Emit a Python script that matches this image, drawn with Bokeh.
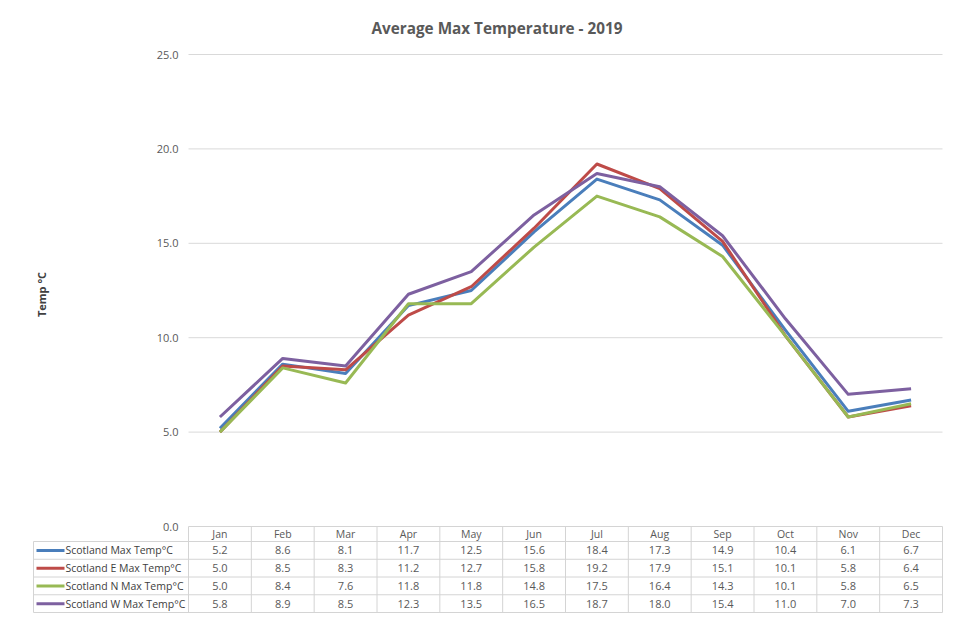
from bokeh.plotting import figure
from bokeh.models import Range1d
from bokeh.core.properties import value
from bokeh.embed import file_html
from bokeh.resources import INLINE

# ---------------- data ----------------
title_text = "Average Max Temperature - 2019"
y_label = "Temp °C"
months = ["Jan", "Feb", "Mar", "Apr", "May", "Jun", "Jul", "Aug", "Sep", "Oct", "Nov", "Dec"]
series_names = ["Scotland Max Temp°C", "Scotland E Max Temp°C",
                "Scotland N Max Temp°C", "Scotland W Max Temp°C"]
scotland = [5.2, 8.6, 8.1, 11.7, 12.5, 15.6, 18.4, 17.3, 14.9, 10.4, 6.1, 6.7]
scotland_e = [5.0, 8.5, 8.3, 11.2, 12.7, 15.8, 19.2, 17.9, 15.1, 10.1, 5.8, 6.4]
scotland_n = [5.0, 8.4, 7.6, 11.8, 11.8, 14.8, 17.5, 16.4, 14.3, 10.1, 5.8, 6.5]
scotland_w = [5.8, 8.9, 8.5, 12.3, 13.5, 16.5, 18.7, 18.0, 15.4, 11.0, 7.0, 7.3]
y_ticks = [0, 5, 10, 15, 20, 25]
series_values = [scotland, scotland_e, scotland_n, scotland_w]
colors = ["#4A7EBB", "#BE4B48", "#98B954", "#7D60A0"]

# ---------------- layout (pixels) ----------------
W, H = 944, 613
TOP = 44
PX_YMAX = 54      # pixel row of top tick
PX_Y0 = 526       # pixel row of 0 / table top
PLOT_L, PLOT_R = 188, 942
LEG_L = 33
HEAD_H = 15
ROW_H = 17.75

ncol = len(months)
ymax = max(y_ticks)
ppu_y = (PX_Y0 - PX_YMAX) / ymax
ppu_x = (PLOT_R - PLOT_L) / ncol


def px2x(px):
    return (px - PLOT_L) / ppu_x


def px2y(py):
    return (PX_Y0 - py) / ppu_y


FONT = value("Open Sans")
GREY = "#595959"
BORDER = "#d4d4d4"

p = figure(width=W, height=H, output_backend="svg", toolbar_location=None,
           x_axis_type=None, y_axis_type=None,
           x_range=Range1d(px2x(0), px2x(W)),
           y_range=Range1d(px2y(H), px2y(TOP)),
           min_border_left=0, min_border_right=0, min_border_bottom=0,
           min_border_top=TOP, title=title_text)
p.grid.visible = False
p.outline_line_color = None
p.background_fill_color = "white"
p.border_fill_color = "white"
p.title.align = "left"
p.title.offset = 371
p.title.standoff = 14
p.title.text_font = "Open Sans"
p.title.text_font_size = "15.3px"
p.title.text_font_style = "bold"
p.title.text_color = GREY

# ---- gridlines ----
gt = [t for t in y_ticks if t > 0]
p.segment(x0=[0] * len(gt), x1=[ncol] * len(gt), y0=gt, y1=gt,
          line_color="#d9d9d9", line_width=1)

# ---- y tick labels ----
p.text(x=[px2x(178)] * len(y_ticks), y=y_ticks,
       text=[f"{t:.1f}" for t in y_ticks],
       text_align="right", text_baseline="middle",
       text_font=FONT, text_font_size=value("11px"), text_color=GREY)

# ---- y axis label ----
p.text(x=[px2x(41)], y=[px2y(294)], text=[y_label], angle=1.5708,
       text_align="center", text_baseline="middle",
       text_font=FONT, text_font_size=value("11px"),
       text_font_style="bold", text_color="#404040")

# ---- lines ----
xc = [i + 0.5 for i in range(ncol)]
for vals, col in zip(series_values, colors):
    p.line(x=xc, y=vals, line_color=col, line_width=3, line_join="round")

# ---- data table ----
y_head_top = 0.0
y_head_bot = px2y(PX_Y0 + HEAD_H)
row_edges = [px2y(PX_Y0 + HEAD_H + ROW_H * k) for k in range(len(series_names) + 1)]
y_bottom = row_edges[-1]
x_leg = px2x(LEG_L)

x0s, x1s, y0s, y1s = [], [], [], []
x0s.append(0); x1s.append(ncol); y0s.append(y_head_top); y1s.append(y_head_top)
for ye in row_edges:
    x0s.append(x_leg); x1s.append(ncol); y0s.append(ye); y1s.append(ye)
for i in range(ncol + 1):
    x0s.append(i); x1s.append(i); y0s.append(y_head_top); y1s.append(y_bottom)
x0s.append(x_leg); x1s.append(x_leg); y0s.append(y_head_bot); y1s.append(y_bottom)
p.segment(x0=x0s, x1=x1s, y0=y0s, y1=y1s, line_color=BORDER, line_width=1)

# header labels
p.text(x=xc, y=[(y_head_top + y_head_bot) / 2] * ncol, text=months,
       text_align="center", text_baseline="middle",
       text_font=FONT, text_font_size=value("10.5px"), text_color=GREY)

# rows
for k, (name, vals, col) in enumerate(zip(series_names, series_values, colors)):
    ymid = (row_edges[k] + row_edges[k + 1]) / 2
    p.text(x=xc, y=[ymid] * ncol, text=[f"{v:.1f}" for v in vals],
           text_align="center", text_baseline="middle",
           text_font=FONT, text_font_size=value("11px"), text_color=GREY)
    p.segment(x0=[px2x(36)], x1=[px2x(64)], y0=[ymid], y1=[ymid],
              line_color=col, line_width=3)
    p.text(x=[px2x(65)], y=[ymid], text=[name],
           text_align="left", text_baseline="middle",
           text_font=FONT, text_font_size=value("10.5px"), text_color="#404040")

open("out.html", "w").write(file_html(p, INLINE))
